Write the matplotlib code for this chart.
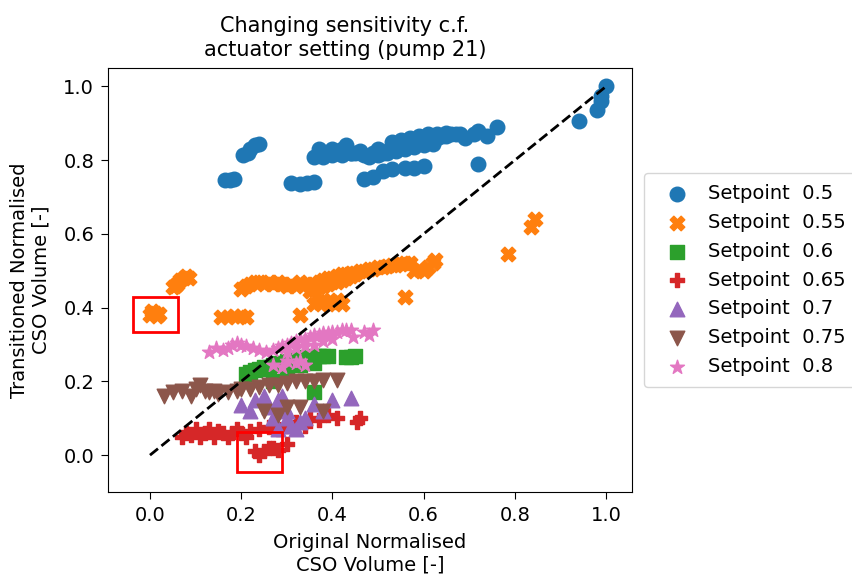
import matplotlib
matplotlib.use("Agg")
import matplotlib.pyplot as plt
from matplotlib.patches import Rectangle

labels = ["Setpoint  0.5", "Setpoint  0.55", "Setpoint  0.6", "Setpoint  0.65",
          "Setpoint  0.7", "Setpoint  0.75", "Setpoint  0.8"]
markers = ["o", "X", "s", "P", "^", "v", "*"]
colors = ["#1f77b4", "#ff7f0e", "#2ca02c", "#d62728", "#9467bd", "#8c564b", "#e377c2"]

sp050_x = [0.165, 0.175, 0.185, 0.205, 0.215, 0.22, 0.23, 0.24, 0.31, 0.33, 0.345, 0.36,
           0.36, 0.37, 0.38, 0.39, 0.40, 0.41, 0.42, 0.43, 0.44, 0.45, 0.46, 0.47, 0.48, 0.49, 0.50, 0.51,
           0.52, 0.53, 0.54, 0.55, 0.56, 0.57, 0.58, 0.59, 0.60, 0.61, 0.62, 0.63, 0.64, 0.65, 0.66, 0.67, 0.68,
           0.53, 0.55, 0.57, 0.59, 0.61, 0.63, 0.65, 0.47, 0.49, 0.51, 0.53, 0.56, 0.58, 0.60,
           0.69, 0.72, 0.71, 0.72, 0.74, 0.76, 0.94, 0.98, 0.99, 0.99, 1.0,
           0.38, 0.40, 0.42, 0.44, 0.46, 0.50, 0.52, 0.54, 0.56, 0.58, 0.60, 0.62]
sp050_y = [0.745, 0.745, 0.748, 0.815, 0.82, 0.83, 0.84, 0.845, 0.738, 0.735, 0.738, 0.74,
           0.81, 0.83, 0.82, 0.82, 0.83, 0.82, 0.83, 0.84, 0.82, 0.82, 0.82, 0.815, 0.81, 0.82, 0.83, 0.82,
           0.825, 0.83, 0.835, 0.84, 0.84, 0.845, 0.85, 0.85, 0.855, 0.855, 0.86, 0.86, 0.865, 0.865, 0.87, 0.87, 0.87,
           0.85, 0.855, 0.86, 0.865, 0.87, 0.87, 0.875, 0.75, 0.755, 0.77, 0.775, 0.78, 0.78, 0.785,
           0.86, 0.79, 0.87, 0.88, 0.865, 0.89, 0.905, 0.935, 0.96, 0.975, 1.0,
           0.81, 0.815, 0.815, 0.82, 0.825, 0.815, 0.82, 0.825, 0.83, 0.835, 0.84, 0.845]

sp055_x = [0.0, 0.005, 0.01, 0.015, 0.02,
           0.05, 0.055, 0.06, 0.065, 0.075, 0.08, 0.085,
           0.155, 0.17, 0.185, 0.2, 0.21,
           0.2, 0.21, 0.22, 0.23, 0.24, 0.25, 0.26, 0.27, 0.28, 0.29, 0.30, 0.31, 0.32, 0.33, 0.34,
           0.33,
           0.35, 0.36, 0.37, 0.38, 0.39, 0.40, 0.41, 0.42, 0.43, 0.44, 0.45, 0.46, 0.47, 0.48, 0.49, 0.50,
           0.51, 0.52, 0.53, 0.54, 0.55, 0.56, 0.57,
           0.35, 0.36, 0.37, 0.38, 0.39, 0.40, 0.41, 0.42, 0.43, 0.44, 0.45,
           0.36, 0.37, 0.38, 0.39, 0.40, 0.41, 0.42,
           0.58, 0.59, 0.60, 0.61, 0.62, 0.625, 0.56, 0.785, 0.835, 0.845]
sp055_y = [0.38, 0.39, 0.385, 0.378, 0.383,
           0.455, 0.46, 0.465, 0.475, 0.48, 0.485, 0.48,
           0.375, 0.375, 0.378, 0.378, 0.375,
           0.45, 0.46, 0.465, 0.47, 0.47, 0.465, 0.47, 0.465, 0.47, 0.465, 0.46, 0.465, 0.46, 0.47, 0.465,
           0.38,
           0.46, 0.465, 0.47, 0.475, 0.48, 0.48, 0.485, 0.49, 0.49, 0.495, 0.495, 0.5, 0.5, 0.505, 0.505, 0.51,
           0.51, 0.512, 0.515, 0.515, 0.518, 0.52, 0.52,
           0.445, 0.45, 0.455, 0.46, 0.465, 0.47, 0.47, 0.475, 0.48, 0.485, 0.49,
           0.41, 0.415, 0.42, 0.41, 0.415, 0.42, 0.41,
           0.5, 0.505, 0.5, 0.51, 0.52, 0.53, 0.43, 0.545, 0.62, 0.64]

sp060_x = [0.21, 0.22, 0.23, 0.24, 0.25, 0.26, 0.27, 0.28, 0.29, 0.30, 0.31, 0.32, 0.33, 0.34,
           0.35, 0.36, 0.37, 0.38, 0.39, 0.43, 0.44, 0.45, 0.27, 0.36, 0.30, 0.33, 0.36]
sp060_y = [0.22, 0.225, 0.23, 0.235, 0.24, 0.24, 0.245, 0.25, 0.25, 0.255, 0.255, 0.26, 0.26, 0.265,
           0.265, 0.27, 0.27, 0.27, 0.27, 0.265, 0.265, 0.27, 0.2, 0.17, 0.235, 0.245, 0.25]

sp065_x = [0.07, 0.08, 0.09, 0.10, 0.11, 0.12, 0.13, 0.14, 0.15, 0.16, 0.17, 0.18, 0.19, 0.20,
           0.21, 0.22, 0.24, 0.26, 0.28, 0.30, 0.32, 0.34, 0.35, 0.37, 0.39, 0.41, 0.46, 0.455,
           0.23, 0.24, 0.25, 0.26, 0.27, 0.28, 0.30]
sp065_y = [0.05, 0.06, 0.055, 0.07, 0.05, 0.06, 0.07, 0.05, 0.065, 0.06, 0.05, 0.06, 0.07, 0.06,
           0.05, 0.065, 0.07, 0.075, 0.07, 0.08, 0.09, 0.08, 0.10, 0.095, 0.11, 0.10, 0.10, 0.09,
           0.01, 0.0, 0.01, 0.02, 0.02, 0.015, 0.03]

sp070_x = [0.20, 0.22, 0.23, 0.25, 0.26, 0.27, 0.28, 0.29, 0.30, 0.31, 0.32, 0.33, 0.34, 0.36,
           0.38, 0.40, 0.44, 0.28, 0.30]
sp070_y = [0.135, 0.12, 0.15, 0.16, 0.13, 0.10, 0.15, 0.16, 0.12, 0.08, 0.07, 0.09, 0.10, 0.14,
           0.12, 0.15, 0.155, 0.07, 0.10]

sp075_x = [0.03, 0.05, 0.07, 0.09, 0.10, 0.11, 0.12, 0.13, 0.14, 0.15, 0.17, 0.19, 0.20, 0.22,
           0.24, 0.26, 0.28, 0.30, 0.32, 0.34, 0.36, 0.38, 0.41, 0.25, 0.28, 0.30, 0.33, 0.38]
sp075_y = [0.16, 0.17, 0.175, 0.16, 0.18, 0.19, 0.175, 0.17, 0.175, 0.165, 0.17, 0.175, 0.18, 0.18,
           0.185, 0.19, 0.19, 0.195, 0.2, 0.2, 0.2, 0.205, 0.205, 0.12, 0.11, 0.13, 0.13, 0.12]

sp080_x = [0.13, 0.145, 0.16, 0.17, 0.18, 0.19, 0.20, 0.21, 0.225, 0.24, 0.255,
           0.27, 0.28, 0.29, 0.30, 0.31, 0.32, 0.33, 0.34, 0.35, 0.36, 0.37, 0.38, 0.39, 0.40, 0.41, 0.42, 0.43, 0.44,
           0.30, 0.32, 0.34, 0.36, 0.38, 0.40,
           0.47, 0.48, 0.49, 0.445,
           0.27, 0.29, 0.30, 0.32, 0.33, 0.34]
sp080_y = [0.28, 0.29, 0.285, 0.29, 0.30, 0.305, 0.30, 0.295, 0.29, 0.285, 0.28,
           0.285, 0.29, 0.295, 0.30, 0.305, 0.31, 0.315, 0.315, 0.32, 0.325, 0.325, 0.33, 0.33, 0.335, 0.335, 0.34, 0.34, 0.34,
           0.28, 0.29, 0.295, 0.30, 0.31, 0.315,
           0.335, 0.325, 0.34, 0.32,
           0.245, 0.24, 0.255, 0.25, 0.255, 0.245]

series_x = [sp050_x, sp055_x, sp060_x, sp065_x, sp070_x, sp075_x, sp080_x]
series_y = [sp050_y, sp055_y, sp060_y, sp065_y, sp070_y, sp075_y, sp080_y]

# highlighted regions (x0, y0, width, height)
boxes = [(-0.037, 0.334, 0.098, 0.096), (0.19, -0.046, 0.10, 0.108)]

plt.rcParams['font.family'] = ['DejaVu Sans']
fs = 14
fig = plt.figure(figsize=(8.52, 5.77), dpi=100)
ax = fig.add_axes([0.1268, 0.1473, 0.615, 0.7348])

for xs, ys, m, c, lab in zip(series_x, series_y, markers, colors, labels):
    ax.scatter(xs, ys, marker=m, color=c, s=110, label=lab)

ax.plot([0, 1], [0, 1], color="black", linestyle="--", linewidth=2)

for (x0, y0, w, h) in boxes:
    ax.add_patch(Rectangle((x0, y0), w, h, fill=False, edgecolor="red", linewidth=2))

ax.set_xlim(-0.092, 1.057)
ax.set_ylim(-0.1, 1.05)
ax.set_xticks([0.0, 0.2, 0.4, 0.6, 0.8, 1.0])
ax.set_yticks([0.0, 0.2, 0.4, 0.6, 0.8, 1.0])
ax.tick_params(labelsize=fs, length=5, pad=5)
ax.set_xlabel("Original Normalised\nCSO Volume [-]", fontsize=fs, labelpad=6)
ax.set_ylabel("Transitioned Normalised\nCSO Volume [-]", fontsize=fs, labelpad=9)
ax.set_title("Changing sensitivity c.f.\nactuator setting (pump 21)", fontsize=15,
             x=0.452, pad=9, linespacing=1.2)
ax.legend(loc="center left", bbox_to_anchor=(1.0, 0.5), borderaxespad=0.6, fontsize=fs,
          handlelength=2.2, handletextpad=0.5, borderpad=0.6, labelspacing=0.5)

fig.savefig("out.png", dpi=100)
